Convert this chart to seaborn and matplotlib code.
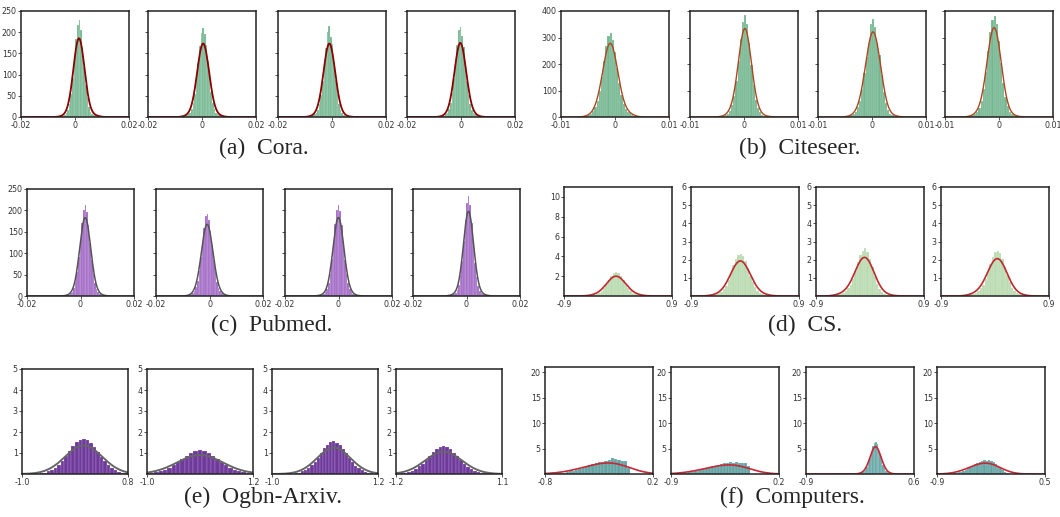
import numpy as np
import pandas as pd
import seaborn as sns
import matplotlib.pyplot as plt

# Each panel: left edge of first bin, bin width, bar heights (density).

# (a) Cora
cora_lo = [-0.0065, -0.0077, -0.0091, -0.0083]
cora_binw = 0.0006
cora_h = [
    [1, 1, 2, 3, 5, 9, 16, 30, 55, 92, 140, 185, 218, 228, 205, 165, 118, 75, 44, 24, 12, 7, 5, 4, 3, 2, 1],
    [1, 2, 2, 4, 6, 10, 18, 32, 55, 88, 128, 168, 198, 209, 196, 170, 132, 92, 58, 34, 18, 10, 6, 4, 3, 2, 1],
    [1, 1, 2, 4, 6, 10, 17, 30, 52, 86, 125, 162, 200, 215, 188, 172, 128, 88, 54, 30, 16, 9, 5, 3, 2, 1, 1],
    [1, 1, 2, 3, 6, 10, 18, 32, 56, 90, 130, 170, 205, 213, 192, 166, 126, 86, 52, 30, 17, 10, 6, 4, 2, 1, 1],
]

# (b) Citeseer
citeseer_lo = [-0.0062, -0.0052, -0.0052, -0.0062]
citeseer_binw = 0.0004
citeseer_h = [
    [1, 2, 4, 7, 12, 22, 38, 62, 100, 150, 210, 268, 305, 316, 292, 245, 185, 128, 82, 50, 30, 20, 14, 9, 5, 3, 1],
    [1, 1, 2, 4, 7, 13, 24, 45, 80, 135, 210, 295, 360, 385, 350, 280, 195, 120, 66, 34, 17, 9, 5, 3, 2, 1, 1],
    [1, 2, 3, 6, 11, 20, 36, 62, 105, 165, 225, 280, 350, 368, 340, 280, 235, 160, 95, 52, 26, 13, 7, 5, 3, 2, 1],
    [1, 2, 4, 7, 12, 20, 35, 62, 105, 170, 250, 320, 365, 381, 350, 285, 205, 130, 75, 40, 20, 10, 6, 4, 2, 1, 1],
]

# (c) Pubmed
pubmed_lo = [-0.0063, -0.0089, -0.0081, -0.0073]
pubmed_binw = 0.0006
pubmed_h = [
    [1, 1, 2, 3, 6, 10, 18, 32, 55, 90, 130, 170, 200, 213, 196, 165, 125, 85, 52, 30, 16, 9, 5, 3, 2, 1, 1],
    [1, 1, 2, 4, 7, 12, 21, 36, 58, 90, 125, 160, 188, 191, 178, 152, 118, 84, 55, 33, 19, 11, 6, 4, 2, 1, 1],
    [1, 1, 2, 3, 5, 9, 16, 30, 52, 86, 126, 168, 200, 213, 198, 166, 124, 84, 52, 30, 16, 9, 5, 3, 2, 1, 1],
    [1, 1, 2, 3, 5, 8, 14, 26, 48, 82, 128, 178, 218, 234, 212, 170, 122, 78, 45, 24, 12, 7, 4, 3, 2, 1, 1],
]

# (d) CS
cs_lo = [-0.57, -0.61, -0.62, -0.495]
cs_binw = 0.04
cs_h = [
    [0.02, 0.03, 0.05, 0.08, 0.12, 0.2, 0.32, 0.5, 0.8, 1.2, 1.65, 2.05, 2.35, 2.45, 2.3, 2.0, 1.6, 1.15, 0.78, 0.5, 0.32, 0.2, 0.13, 0.08, 0.05, 0.03, 0.02],
    [0.03, 0.04, 0.06, 0.09, 0.14, 0.22, 0.36, 0.56, 0.86, 1.25, 1.68, 2.05, 2.28, 2.31, 2.2, 1.92, 1.55, 1.12, 0.76, 0.48, 0.3, 0.19, 0.12, 0.08, 0.05, 0.03, 0.02],
    [0.04, 0.06, 0.09, 0.13, 0.19, 0.28, 0.42, 0.62, 0.95, 1.38, 1.85, 2.25, 2.5, 2.63, 2.42, 2.05, 1.58, 1.08, 0.68, 0.4, 0.23, 0.13, 0.08, 0.05, 0.03, 0.02, 0.01],
    [0.04, 0.06, 0.09, 0.13, 0.19, 0.28, 0.42, 0.62, 0.92, 1.32, 1.78, 2.15, 2.42, 2.5, 2.38, 2.05, 1.62, 1.15, 0.75, 0.46, 0.27, 0.16, 0.1, 0.06, 0.04, 0.02, 0.01],
]

# (e) Ogbn-Arxiv
arxiv_lo = [-0.76, -1.115, -0.5925, -1.1775]
arxiv_binw = [0.06, 0.09, 0.065, 0.075]
arxiv_h = [
    [0.02, 0.04, 0.07, 0.12, 0.2, 0.3, 0.44, 0.62, 0.84, 1.08, 1.32, 1.52, 1.64, 1.68, 1.63, 1.5, 1.3, 1.06, 0.82, 0.6, 0.42, 0.28, 0.17, 0.1, 0.06, 0.03, 0.02],
    [0.02, 0.03, 0.05, 0.08, 0.13, 0.2, 0.29, 0.41, 0.56, 0.72, 0.87, 1.0, 1.1, 1.12, 1.08, 1.0, 0.86, 0.72, 0.56, 0.41, 0.29, 0.2, 0.13, 0.08, 0.05, 0.03, 0.02],
    [0.02, 0.04, 0.07, 0.12, 0.19, 0.29, 0.42, 0.58, 0.78, 1.0, 1.22, 1.4, 1.52, 1.55, 1.5, 1.38, 1.2, 0.98, 0.77, 0.57, 0.4, 0.27, 0.17, 0.1, 0.06, 0.03, 0.02],
    [0.02, 0.03, 0.06, 0.1, 0.16, 0.25, 0.36, 0.5, 0.67, 0.85, 1.03, 1.18, 1.28, 1.31, 1.27, 1.17, 1.02, 0.84, 0.66, 0.49, 0.35, 0.24, 0.15, 0.09, 0.05, 0.03, 0.02],
]

# (f) Computers
comp_lo = [-0.76, -0.82, -0.2, -0.72]
comp_binw = [0.03, 0.03, 0.02, 0.03]
comp_h = [
    [0.05, 0.08, 0.12, 0.18, 0.26, 0.36, 0.5, 0.66, 0.85, 1.05, 1.26, 1.48, 1.7, 1.9, 2.1, 2.3, 2.45, 2.6, 2.75, 3.1, 2.95, 2.7, 2.6, 2.5, 1.2],
    [0.1, 0.15, 0.22, 0.3, 0.4, 0.52, 0.65, 0.8, 0.96, 1.12, 1.3, 1.48, 1.65, 1.8, 1.95, 2.08, 2.2, 2.3, 2.25, 2.3, 2.2, 2.25, 2.1, 1.6],
    [0.03, 0.06, 0.1, 0.18, 0.3, 0.5, 0.85, 1.4, 2.2, 3.2, 4.3, 5.4, 6.1, 6.3, 5.9, 5.0, 3.9, 2.8, 1.85, 1.15, 0.68, 0.38, 0.2, 0.11, 0.06, 0.03, 0.02],
    [0.08, 0.14, 0.22, 0.33, 0.48, 0.66, 0.88, 1.12, 1.38, 1.65, 1.9, 2.15, 2.4, 2.6, 2.65, 2.6, 2.65, 2.55, 2.35, 2.0, 1.6, 1.15, 0.72, 0.38, 0.15],
]

sns.set_style('ticks')

W, H = 1060, 517
fig = plt.figure(figsize=(W / 100, H / 100), dpi=100)


def panel(left, top, width, bottom):
    return fig.add_axes([left / W, 1 - bottom / H, width / W, (bottom - top) / H])


def pick(v, i):
    return v[i] if isinstance(v, list) else v


def draw_group(lefts, top, bottom, width, los, binws, heights, xlims, xticks, xlabels,
               ylims, yticks, ylab_all, color, alpha, lcolor, lw, bw_adj):
    for i, left in enumerate(lefts):
        ax = panel(left, top, width, bottom)
        h = heights[i]
        bw = pick(binws, i)
        lo = los[i]
        df = pd.DataFrame({'value': lo + bw * (np.arange(len(h)) + 0.5), 'height': h})
        sns.histplot(data=df, x='value', weights='height', binwidth=bw,
                     binrange=(lo, lo + bw * len(h)), stat='count', kde=True,
                     color=color, alpha=alpha, edgecolor='white', linewidth=0.12,
                     kde_kws={'bw_adjust': pick(bw_adj, i), 'cut': 12},
                     line_kws={'lw': lw}, ax=ax)
        ax.lines[-1].set_color(lcolor)
        ax.set_xlim(*pick(xlims, i))
        ax.set_ylim(*pick(ylims, i))
        xt = xticks[i] if isinstance(xticks[0], list) else xticks
        xlab = xlabels[i] if isinstance(xlabels[0], list) else xlabels
        ax.set_xticks(xt)
        ax.set_xticklabels(xlab)
        yt = yticks[i] if isinstance(yticks[0], list) else yticks
        ax.set_yticks(yt)
        if i > 0 and not ylab_all:
            ax.set_yticklabels([])
        ax.set_xlabel('')
        ax.set_ylabel('')
        ax.tick_params(labelsize=5.7, length=2, width=0.6, pad=1, colors='#333333')
        for s in ax.spines.values():
            s.set_visible(True)
            s.set_color('#222222')
            s.set_linewidth(1.1)


draw_group([21, 148, 278, 407], 11, 117, 108, cora_lo, cora_binw, cora_h,
           (-0.02, 0.02), [-0.02, 0, 0.02], ['-0.02', '0', '0.02'],
           (0, 250), [0, 50, 100, 150, 200, 250], False,
           '#3f9a66', 0.72, '#8b0000', 1.3, 0.95)

draw_group([561, 690, 818, 945], 11, 117, 108, citeseer_lo, citeseer_binw, citeseer_h,
           (-0.01, 0.01), [-0.01, 0, 0.01], ['-0.01', '0', '0.01'],
           (0, 400), [0, 100, 200, 300, 400], False,
           '#3f9a66', 0.72, '#b0451f', 1.0, 0.75)

draw_group([27, 156, 285, 413], 189, 296, 107, pubmed_lo, pubmed_binw, pubmed_h,
           (-0.02, 0.02), [-0.02, 0, 0.02], ['-0.02', '0', '0.02'],
           (0, 250), [0, 50, 100, 150, 200, 250], False,
           '#8236b3', 0.75, '#555555', 1.1, 0.8)

draw_group([564, 691, 816, 941], 187, 296, 108, cs_lo, cs_binw, cs_h,
           (-0.9, 0.9), [-0.9, 0.9], ['-0.9', '0.9'],
           [(0, 11), (0, 6), (0, 6), (0, 6)],
           [[2, 4, 6, 8, 10], [1, 2, 3, 4, 5, 6], [1, 2, 3, 4, 5, 6], [1, 2, 3, 4, 5, 6]], True,
           '#8cc47c', 0.6, '#c0282d', 1.2, 1.0)

draw_group([22, 147, 272, 396], 369, 474, 106, arxiv_lo, arxiv_binw, arxiv_h,
           [(-1.0, 0.8), (-1.0, 1.2), (-1.0, 1.2), (-1.2, 1.1)],
           [[-1.0, 0.8], [-1.0, 1.2], [-1.0, 1.2], [-1.2, 1.1]],
           [['-1.0', '0.8'], ['-1.0', '1.2'], ['-1.0', '1.2'], ['-1.2', '1.1']],
           (0, 5), [1, 2, 3, 4, 5], True,
           '#5b1f8f', 0.88, '#666666', 1.4, 1.2)

draw_group([545, 671, 806, 937], 367, 474, 108, comp_lo, comp_binw, comp_h,
           [(-0.8, 0.2), (-0.9, 0.2), (-0.9, 0.6), (-0.9, 0.5)],
           [[-0.8, 0.2], [-0.9, 0.2], [-0.9, 0.6], [-0.9, 0.5]],
           [['-0.8', '0.2'], ['-0.9', '0.2'], ['-0.9', '0.6'], ['-0.9', '0.5']],
           (0, 21), [5, 10, 15, 20], True,
           '#3f8f8f', 0.82, '#c62837', 1.2, [1.6, 1.6, 0.9, 1.5])

captions = ['(a)  Cora.', '(b)  Citeseer.', '(c)  Pubmed.', '(d)  CS.', '(e)  Ogbn-Arxiv.', '(f)  Computers.']
cap_x = [264, 800, 272, 805, 263, 792]
cap_y = [148, 148, 325, 325, 497, 497]
for t, x, y in zip(captions, cap_x, cap_y):
    fig.text(x / W, 1 - y / H, t, ha='center', va='center', fontsize=17, family='Liberation Serif')

fig.savefig('out.png', dpi=100)
